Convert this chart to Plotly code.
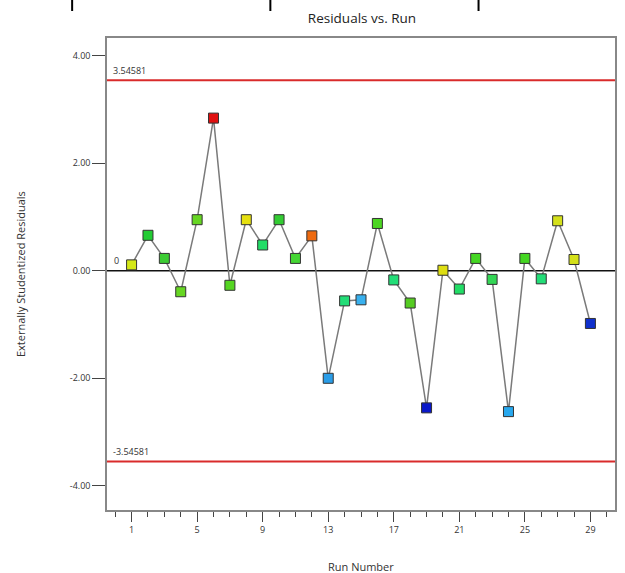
import plotly.graph_objects as go

runs = list(range(1, 30))
residuals = [0.11, 0.66, 0.23, -0.39, 0.95, 2.84, -0.27, 0.95, 0.48, 0.95,
             0.23, 0.65, -2.00, -0.56, -0.54, 0.88, -0.17, -0.60, -2.55, 0.01,
             -0.34, 0.23, -0.16, -2.62, 0.23, -0.15, 0.93, 0.21, -0.98]
point_colors = ["#d4e817", "#22cc33", "#3ccc33", "#66d622", "#66d622", "#e01010",
                "#55d622", "#e6e010", "#22dd66", "#33cc33", "#44d633", "#ee6a10",
                "#2a9de8", "#22dd77", "#38b0ee", "#4cd622", "#22dd77", "#55cc22",
                "#0a18c8", "#dede12", "#22dd66", "#44d622", "#33d655", "#28a8ee",
                "#44d622", "#22dd77", "#d4e01a", "#d4e01a", "#1030cc"]
limit_upper = 3.54581
limit_lower = -3.54581
y_ticks = [-4, -2, 0, 2, 4]
y_tick_labels = ["-4.00", "-2.00", "0.00", "2.00", "4.00"]
x_ticks = [1, 5, 9, 13, 17, 21, 25, 29]

fig = go.Figure()
fig.add_trace(go.Scatter(
    x=runs, y=residuals, mode="lines+markers",
    line=dict(color="#7a7a7a", width=1.5),
    marker=dict(symbol="square", size=10, color=point_colors,
                line=dict(color="#333333", width=1)),
    showlegend=False, hoverinfo="x+y",
))

for val in (limit_upper, limit_lower):
    fig.add_shape(type="line", xref="paper", x0=0, x1=1, yref="y", y0=val, y1=val,
                  line=dict(color="#d92b2b", width=2))
    fig.add_annotation(xref="paper", x=0, yref="y", y=val, text=f"{val:.5f}",
                       showarrow=False, xanchor="left", yanchor="bottom",
                       xshift=4, yshift=1, font=dict(size=9, color="#333"))
fig.add_shape(type="line", xref="paper", x0=0, x1=1, yref="y", y0=0, y1=0,
              line=dict(color="#111111", width=1.6), layer="below")
fig.add_annotation(xref="paper", x=0, yref="y", y=0, text="0", showarrow=False,
                   xanchor="left", yanchor="bottom", xshift=5, yshift=2,
                   font=dict(size=9, color="#333"))

# crop marks at top of image
for xp in (72, 271, 480):
    fig.add_shape(type="line", xref="paper", yref="paper",
                  x0=(xp - 107) / 510, x1=(xp - 107) / 510,
                  y0=1 + 38 / 472, y1=1 + 27 / 472,
                  line=dict(color="#000", width=2))

fig.update_layout(
    width=625, height=573,
    margin=dict(l=107, r=8, t=38, b=63),
    paper_bgcolor="white", plot_bgcolor="white",
    font=dict(family="Open Sans, Noto Sans, sans-serif", color="#333"),
    title=dict(text="Residuals vs. Run", x=(107 + 617) / 2 / 625, xanchor="center",
               y=1 - 18 / 573, yanchor="middle", font=dict(size=13.5, color="#222")),
)
fig.update_xaxes(
    range=[-0.5, 30.5], tickvals=x_ticks, ticks="outside", ticklen=10,
    tickcolor="#444", tickwidth=1, showgrid=False, zeroline=False,
    showline=True, linecolor="#888", linewidth=1.5, mirror=True,
    tickfont=dict(size=9, color="#333"),
    minor=dict(dtick=1, tick0=0, ticks="outside", ticklen=5, tickcolor="#444", showgrid=False),
)
fig.update_yaxes(
    range=[-4.45, 4.33], tickvals=y_ticks, ticktext=y_tick_labels, ticks="outside",
    ticklen=13, tickcolor="#444", tickwidth=1, showgrid=False, zeroline=False,
    showline=True, linecolor="#888", linewidth=1.5, mirror=True,
    tickfont=dict(size=9, color="#333"),
)
fig.add_annotation(xref="paper", yref="paper", x=0.5, y=0, yshift=-56,
                   text="Run Number", showarrow=False, yanchor="middle",
                   font=dict(size=11, color="#333"))
fig.add_annotation(xref="paper", yref="paper", x=0, xshift=-87, y=0.5,
                   text="Externally Studentized Residuals", showarrow=False,
                   textangle=-90, xanchor="center", font=dict(size=11, color="#333"))

fig.write_html("out.html", config={"displayModeBar": False},
               post_script="document.body.style.margin='0';document.body.style.overflow='hidden';")
